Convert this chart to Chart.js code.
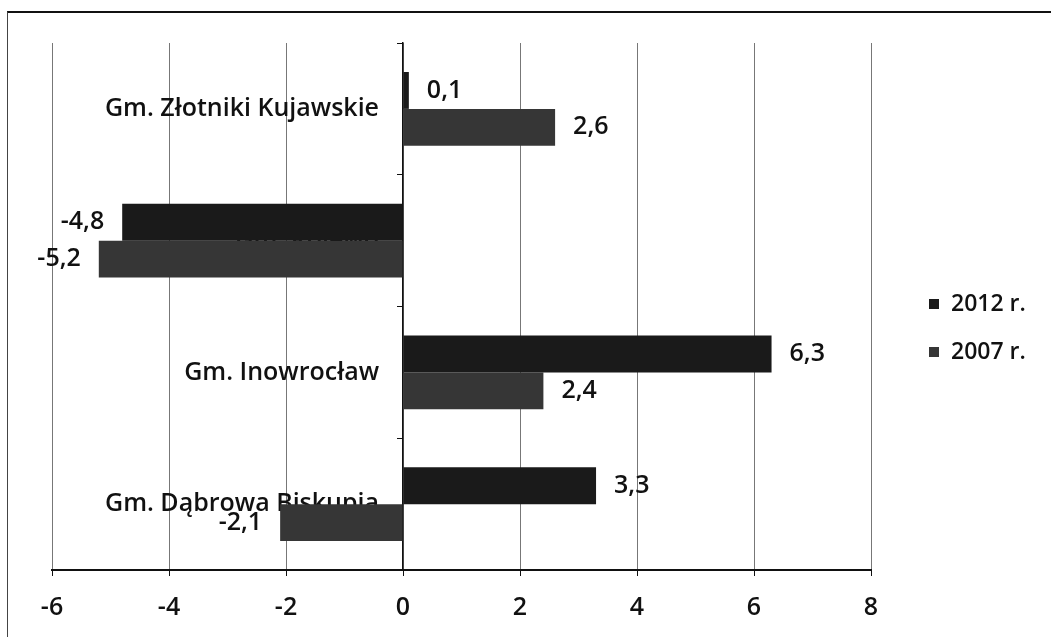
<!DOCTYPE html>
<html>
<head>
<meta charset="utf-8">
<script src="https://cdn.jsdelivr.net/npm/chart.js@4.4.1/dist/chart.umd.min.js"></script>
<style>
  body { margin: 0; background: #fff; }
  #wrap { position: relative; width: 1051px; height: 637px; overflow: hidden; }
  #frame { position: absolute; left: 7px; top: 11px; width: 1060px; height: 640px;
           border-top: 2px solid #111; border-left: 1px solid #444; }
  #chart { position: absolute; left: 0; top: 0; }
  #legend { position: absolute; left: 929px; top: 287px; font: 600 23px "Open Sans", sans-serif; color: #111; }
  #legend div { height: 30px; line-height: 30px; margin-bottom: 18px; white-space: nowrap; }
  #legend span { display: inline-block; width: 10px; height: 10px; margin-right: 12px; vertical-align: 2px; }
</style>
</head>
<body>
<div id="wrap">
  <div id="frame"></div>
  <canvas id="chart" width="1051" height="645"></canvas>
  <div id="legend"></div>
</div>
<script>
// dane
const categories = ['Gm. Złotniki Kujawskie', 'Gm. Rojewo', 'Gm. Inowrocław', 'Gm. Dąbrowa Biskupia'];
const values2012 = [0.1, -4.8, 6.3, 3.3];
const values2007 = [2.6, -5.2, 2.4, -2.1];
const xTicks = [-6, -4, -2, 0, 2, 4, 6, 8];

const labelFont = { family: 'Open Sans', size: 25, weight: '600' };

// etykiety wartości przy końcach słupków
const valueLabels = {
    id: 'valueLabels',
    afterDatasetsDraw(chart) {
        const ctx = chart.ctx;
        ctx.save();
        ctx.font = '600 25px "Open Sans"';
        ctx.fillStyle = '#111';
        ctx.textBaseline = 'middle';
        chart.data.datasets.forEach((ds, i) => {
            chart.getDatasetMeta(i).data.forEach((bar, j) => {
                const v = ds.data[j];
                const neg = v < 0;
                ctx.textAlign = neg ? 'right' : 'left';
                ctx.fillText(v.toFixed(1).replace('.', ','), bar.x + (neg ? -18 : 18), bar.y);
            });
        });
        ctx.restore();
    }
};

// legenda w HTML
const htmlLegend = {
    id: 'htmlLegend',
    afterUpdate(chart) {
        const box = document.getElementById('legend');
        box.innerHTML = '';
        chart.data.datasets.forEach(ds => {
            const row = document.createElement('div');
            const sq = document.createElement('span');
            sq.style.background = ds.backgroundColor;
            row.appendChild(sq);
            row.appendChild(document.createTextNode(ds.label));
            box.appendChild(row);
        });
    }
};

new Chart(document.getElementById('chart'), {
    type: 'bar',
    data: {
        labels: categories,
        datasets: [
            { label: '2012 r.', data: values2012, backgroundColor: '#1a1a1a' },
            { label: '2007 r.', data: values2007, backgroundColor: '#363636' }
        ]
    },
    options: {
        indexAxis: 'y',
        responsive: false,
        animation: false,
        datasets: { bar: { categoryPercentage: 0.56, barPercentage: 1 } },
        layout: { padding: { left: 52, right: 180, top: 43, bottom: 5 } },
        plugins: { legend: { display: false }, tooltip: { enabled: false } },
        scales: {
            x: {
                min: -6, max: 8,
                afterBuildTicks: s => { s.ticks = xTicks.map(v => ({ value: v })); },
                grid: { color: '#777', lineWidth: 1, tickColor: '#111', tickLength: 6 },
                border: { color: '#111', width: 2 },
                ticks: { font: labelFont, color: '#111', padding: 17 }
            },
            // nazwy gmin - przesunięte trochę w lewo od osi
            y: {
                position: { x: -0.41 },
                grid: { display: false },
                border: { display: false },
                ticks: { font: labelFont, color: '#111', padding: 0 }
            },
            // sama linia osi w zerze
            yLine: {
                type: 'category',
                axis: 'y',
                position: { x: 0 },
                grid: { drawOnChartArea: false, color: '#111', tickLength: 5 },
                border: { color: '#111', width: 1.5 },
                ticks: { display: false }
            }
        }
    },
    plugins: [valueLabels, htmlLegend]
});
</script>
</body>
</html>
